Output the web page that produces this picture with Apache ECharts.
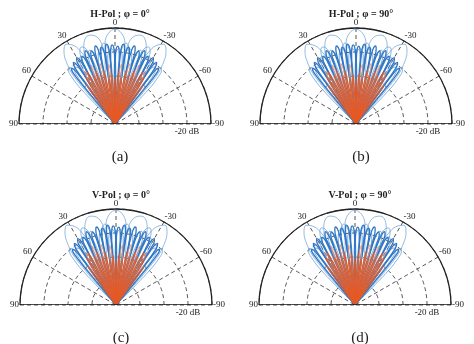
<!DOCTYPE html>
<html><head><meta charset="utf-8">
<script src="https://cdn.jsdelivr.net/npm/echarts@6/dist/echarts.min.js"></script>
<style>html,body{margin:0;padding:0;background:#fff}#c{width:474px;height:344px}</style>
</head><body><div id="c"></div>
<script>
const panelTitles = ['H-Pol ; \u03c6 = 0\u00b0', 'H-Pol ; \u03c6 = 90\u00b0', 'V-Pol ; \u03c6 = 0\u00b0', 'V-Pol ; \u03c6 = 90\u00b0'];
const panelLetters = ['(a)', '(b)', '(c)', '(d)'];
const angleTicks = [-90, -60, -30, 0, 30, 60, 90];
const radiusTicks = [-80, -60, -40, -20, 0];
const dbLabel = '-20 dB';

// [dB, angle(deg)] points of each lobe
const bigLobes = [
  [[-80,-12],[-30,-9.5],[-12,-7],[-4,-4],[-1,0],[-4,4],[-12,7],[-30,9.5],[-80,12]],
  [[-80,4],[-30,7],[-12,9.5],[-5,12.5],[-3,16],[-5,19.5],[-12,22.5],[-30,25],[-80,28]],
  [[-80,-28],[-30,-25],[-12,-22.5],[-5,-19.5],[-3,-16],[-5,-12.5],[-12,-9.5],[-30,-7],[-80,-4]],
  [[-80,19],[-30,22.5],[-12,25.5],[-5,28.5],[-2,31.5],[-5,34.5],[-12,37.5],[-30,41],[-80,44]],
  [[-80,-44],[-30,-41],[-12,-37.5],[-5,-34.5],[-2,-31.5],[-5,-28.5],[-12,-25.5],[-30,-22.5],[-80,-19]]
];
const sideLobes = [
  [[-80,1],[-38,3],[-20,4.8],[-14,6.2],[-12,8],[-14,9.8],[-20,11.2],[-38,13],[-80,15]],
  [[-80,-15],[-38,-13],[-20,-11.2],[-14,-9.8],[-12,-8],[-14,-6.2],[-20,-4.8],[-38,-3],[-80,-1]],
  [[-80,16],[-38,18],[-19,19.8],[-12,21.5],[-10,23.5],[-12,25.5],[-19,27.2],[-38,29],[-80,31]],
  [[-80,-31],[-38,-29],[-19,-27.2],[-12,-25.5],[-10,-23.5],[-12,-21.5],[-19,-19.8],[-38,-18],[-80,-16]],
  [[-80,33],[-40,34.8],[-26,36.5],[-21,38],[-19,39.5],[-21,41],[-26,42.5],[-40,44.2],[-80,46]],
  [[-80,-46],[-40,-44.2],[-26,-42.5],[-21,-41],[-19,-39.5],[-21,-38],[-26,-36.5],[-40,-34.8],[-80,-33]]
];
const loopLobes = [
  [[-80,-2],[-40,-1],[-24,-0.2],[-19,1.2],[-17,3],[-19,4.8],[-24,6.2],[-40,7],[-80,8]],
  [[-80,-8],[-40,-7],[-24,-6.2],[-19,-4.8],[-17,-3],[-19,-1.2],[-24,0.2],[-40,1],[-80,2]],
  [[-80,6],[-40,7],[-23,7.8],[-18,9.2],[-16,11],[-18,12.8],[-23,14.2],[-40,15],[-80,16]],
  [[-80,-16],[-40,-15],[-23,-14.2],[-18,-12.8],[-16,-11],[-18,-9.2],[-23,-7.8],[-40,-7],[-80,-6]],
  [[-80,14],[-40,15],[-22,15.8],[-17,17.2],[-15,19],[-17,20.8],[-22,22.2],[-40,23],[-80,24]],
  [[-80,-24],[-40,-23],[-22,-22.2],[-17,-20.8],[-15,-19],[-17,-17.2],[-22,-15.8],[-40,-15],[-80,-14]],
  [[-80,22],[-40,23],[-24,23.8],[-19,25.2],[-17,27],[-19,28.8],[-24,30.2],[-40,31],[-80,32]],
  [[-80,-32],[-40,-31],[-24,-30.2],[-19,-28.8],[-17,-27],[-19,-25.2],[-24,-23.8],[-40,-23],[-80,-22]],
  [[-80,30],[-40,31],[-28,31.8],[-24,33.2],[-22,35],[-24,36.8],[-28,38.2],[-40,39],[-80,40]],
  [[-80,-40],[-40,-39],[-28,-38.2],[-24,-36.8],[-22,-35],[-24,-33.2],[-28,-31.8],[-40,-31],[-80,-30]]
];
const beamLobes = [
  [[-80,-40.6],[-45,-40],[-29,-39.6],[-23,-39],[-21,-38],[-23,-37],[-29,-36.4],[-45,-36],[-80,-35.4]],
  [[-80,-36.6],[-45,-36],[-26,-35.6],[-20,-35],[-18,-34],[-20,-33],[-26,-32.4],[-45,-32],[-80,-31.4]],
  [[-80,-32.6],[-45,-32],[-24,-31.6],[-18,-31],[-16,-30],[-18,-29],[-24,-28.4],[-45,-28],[-80,-27.4]],
  [[-80,-28.6],[-45,-28],[-25,-27.6],[-19,-27],[-17,-26],[-19,-25],[-25,-24.4],[-45,-24],[-80,-23.4]],
  [[-80,-24.6],[-45,-24],[-22,-23.6],[-16,-23],[-14,-22],[-16,-21],[-22,-20.4],[-45,-20],[-80,-19.4]],
  [[-80,-20.6],[-45,-20],[-24,-19.6],[-18,-19],[-16,-18],[-18,-17],[-24,-16.4],[-45,-16],[-80,-15.4]],
  [[-80,-16.6],[-45,-16],[-21,-15.6],[-15,-15],[-13,-14],[-15,-13],[-21,-12.4],[-45,-12],[-80,-11.4]],
  [[-80,-12.6],[-45,-12],[-23,-11.6],[-17,-11],[-15,-10],[-17,-9],[-23,-8.4],[-45,-8],[-80,-7.4]],
  [[-80,-8.6],[-45,-8],[-21,-7.6],[-15,-7],[-13,-6],[-15,-5],[-21,-4.4],[-45,-4],[-80,-3.4]],
  [[-80,-4.6],[-45,-4],[-23,-3.6],[-17,-3],[-15,-2],[-17,-1],[-23,-0.4],[-45,0],[-80,0.6]],
  [[-80,-0.6],[-45,0],[-22,0.4],[-16,1],[-14,2],[-16,3],[-22,3.6],[-45,4],[-80,4.6]],
  [[-80,3.4],[-45,4],[-21,4.4],[-15,5],[-13,6],[-15,7],[-21,7.6],[-45,8],[-80,8.6]],
  [[-80,7.4],[-45,8],[-23,8.4],[-17,9],[-15,10],[-17,11],[-23,11.6],[-45,12],[-80,12.6]],
  [[-80,11.4],[-45,12],[-21,12.4],[-15,13],[-13,14],[-15,15],[-21,15.6],[-45,16],[-80,16.6]],
  [[-80,15.4],[-45,16],[-24,16.4],[-18,17],[-16,18],[-18,19],[-24,19.6],[-45,20],[-80,20.6]],
  [[-80,19.4],[-45,20],[-22,20.4],[-16,21],[-14,22],[-16,23],[-22,23.6],[-45,24],[-80,24.6]],
  [[-80,23.4],[-45,24],[-25,24.4],[-19,25],[-17,26],[-19,27],[-25,27.6],[-45,28],[-80,28.6]],
  [[-80,27.4],[-45,28],[-24,28.4],[-18,29],[-16,30],[-18,31],[-24,31.6],[-45,32],[-80,32.6]],
  [[-80,31.4],[-45,32],[-26,32.4],[-20,33],[-18,34],[-20,35],[-26,35.6],[-45,36],[-80,36.6]],
  [[-80,35.4],[-45,36],[-29,36.4],[-23,37],[-21,38],[-23,39],[-29,39.6],[-45,40],[-80,40.6]]
];
const redSideLobes = [
  [[-80,2.5],[-55,3.6],[-35,5],[-30,6],[-35,7],[-55,8.4],[-80,9.5]],
  [[-80,-9.5],[-55,-8.4],[-35,-7],[-30,-6],[-35,-5],[-55,-3.6],[-80,-2.5]],
  [[-80,10.5],[-55,11.6],[-33,13],[-28,14],[-33,15],[-55,16.4],[-80,17.5]],
  [[-80,-17.5],[-55,-16.4],[-33,-15],[-28,-14],[-33,-13],[-55,-11.6],[-80,-10.5]],
  [[-80,18.5],[-55,19.6],[-32,21],[-27,22],[-32,23],[-55,24.4],[-80,25.5]],
  [[-80,-25.5],[-55,-24.4],[-32,-23],[-27,-22],[-32,-21],[-55,-19.6],[-80,-18.5]],
  [[-80,26.5],[-55,27.6],[-34,29],[-29,30],[-34,31],[-55,32.4],[-80,33.5]],
  [[-80,-33.5],[-55,-32.4],[-34,-31],[-29,-30],[-34,-29],[-55,-27.6],[-80,-26.5]]
];
const redLobes = [
  [[-80,-37.8],[-62,-37.4],[-45,-36.8],[-40,-36],[-45,-35.2],[-62,-34.6],[-80,-34.2]],
  [[-80,-33.8],[-62,-33.4],[-39,-32.8],[-34,-32],[-39,-31.2],[-62,-30.6],[-80,-30.2]],
  [[-80,-29.8],[-62,-29.4],[-36,-28.8],[-31,-28],[-36,-27.2],[-62,-26.6],[-80,-26.2]],
  [[-80,-25.8],[-62,-25.4],[-41,-24.8],[-36,-24],[-41,-23.2],[-62,-22.6],[-80,-22.2]],
  [[-80,-21.8],[-62,-21.4],[-38,-20.8],[-33,-20],[-38,-19.2],[-62,-18.6],[-80,-18.2]],
  [[-80,-17.8],[-62,-17.4],[-43,-16.8],[-38,-16],[-43,-15.2],[-62,-14.6],[-80,-14.2]],
  [[-80,-13.8],[-62,-13.4],[-40,-12.8],[-35,-12],[-40,-11.2],[-62,-10.6],[-80,-10.2]],
  [[-80,-9.8],[-62,-9.4],[-46,-8.8],[-41,-8],[-46,-7.2],[-62,-6.6],[-80,-6.2]],
  [[-80,-5.8],[-62,-5.4],[-42,-4.8],[-37,-4],[-42,-3.2],[-62,-2.6],[-80,-2.2]],
  [[-80,-1.8],[-62,-1.4],[-47,-0.8],[-42,0],[-47,0.8],[-62,1.4],[-80,1.8]],
  [[-80,2.2],[-62,2.6],[-43,3.2],[-38,4],[-43,4.8],[-62,5.4],[-80,5.8]],
  [[-80,6.2],[-62,6.6],[-46,7.2],[-41,8],[-46,8.8],[-62,9.4],[-80,9.8]],
  [[-80,10.2],[-62,10.6],[-40,11.2],[-35,12],[-40,12.8],[-62,13.4],[-80,13.8]],
  [[-80,14.2],[-62,14.6],[-43,15.2],[-38,16],[-43,16.8],[-62,17.4],[-80,17.8]],
  [[-80,18.2],[-62,18.6],[-38,19.2],[-33,20],[-38,20.8],[-62,21.4],[-80,21.8]],
  [[-80,22.2],[-62,22.6],[-41,23.2],[-36,24],[-41,24.8],[-62,25.4],[-80,25.8]],
  [[-80,26.2],[-62,26.6],[-36,27.2],[-31,28],[-36,28.8],[-62,29.4],[-80,29.8]],
  [[-80,30.2],[-62,30.6],[-39,31.2],[-34,32],[-39,32.8],[-62,33.4],[-80,33.8]],
  [[-80,34.2],[-62,34.6],[-45,35.2],[-40,36],[-45,36.8],[-62,37.4],[-80,37.8]]
];
const baseLine = [[0,-90],[0,90]];

const centers = [[115,124],[356,124],[116,305],[355,305]];
const serif = '"Liberation Serif", "DejaVu Serif", serif';
const dash = {color: '#444', width: 0.9, type: [4, 3]};

const polar = [], angleAxis = [], radiusAxis = [], series = [], title = [];
centers.forEach((c, i) => {
  polar.push({center: c, radius: 96});
  angleAxis.push({
    polarIndex: i, type: 'value', min: -90, max: 90, interval: 30,
    startAngle: 0, endAngle: 180, clockwise: false,
    axisLine: {lineStyle: {color: '#222', width: 1.3}},
    axisTick: {show: false},
    axisLabel: {margin: 1, fontFamily: serif, fontSize: 9, color: '#222',
      formatter: v => angleTicks.includes(v) ? String(v) : ''},
    splitLine: {show: true, lineStyle: dash}
  });
  radiusAxis.push({
    polarIndex: i, type: 'value', min: radiusTicks[0], max: radiusTicks[radiusTicks.length-1], interval: 20,
    axisLine: {show: false}, axisTick: {show: false},
    axisLabel: {fontFamily: serif, fontSize: 9, color: '#222', margin: 3,
      verticalAlign: 'top', padding: [6, 0, 0, 0], align: 'center',
      formatter: v => v === -20 ? dbLabel : ''},
    splitLine: {show: true, lineStyle: dash}
  });
  const add = (lobes, color, width, z) => lobes.forEach(l => series.push({
    type: 'line', coordinateSystem: 'polar', polarIndex: i, data: l, smooth: 0.4,
    symbol: 'none', silent: true, z: z, lineStyle: {color: color, width: width}
  }));
  add(bigLobes, '#78a9d9', 0.8, 2);
  add(sideLobes, '#6aa2d8', 0.8, 3);
  add(loopLobes, '#5d98d2', 0.8, 3);
  add(beamLobes, '#2f77c6', 1.3, 4);
  add(redSideLobes, '#ec9271', 0.8, 5);
  add(redLobes, '#e55a26', 1.0, 6);
  series.push({type: 'line', coordinateSystem: 'polar', polarIndex: i, data: baseLine,
    symbol: 'none', silent: true, z: 10, lineStyle: {color: '#111', width: 1.3}});
  title.push({text: panelTitles[i], left: c[0], top: c[1] - 120, textAlign: 'center',
    textStyle: {fontFamily: serif, fontSize: 10, fontWeight: 'bold', color: '#222'}});
  title.push({text: panelLetters[i], left: c[0], top: c[1] + 21, textAlign: 'center',
    textStyle: {fontFamily: serif, fontSize: 15, fontWeight: 'normal', color: '#222'}});
});

const chart = echarts.init(document.getElementById('c'), null, {renderer: 'canvas'});
chart.setOption({animation: false, backgroundColor: '#fff', title, polar, angleAxis, radiusAxis, series});
</script></body></html>
